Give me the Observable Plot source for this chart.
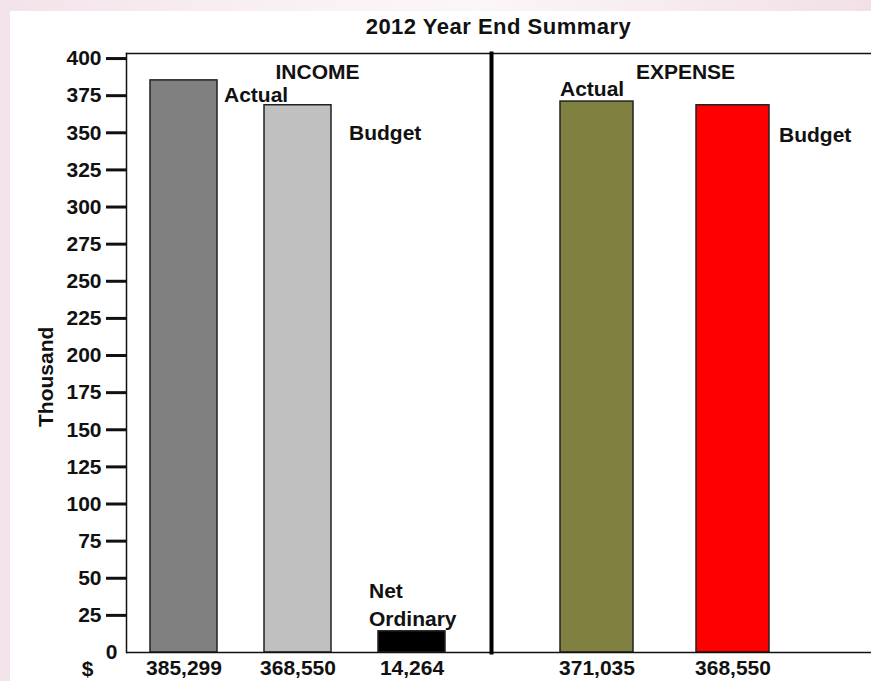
<!DOCTYPE html>
<html>
<head>
<meta charset="utf-8">
<script src="https://cdn.jsdelivr.net/npm/d3@7"></script>
<script src="https://cdn.jsdelivr.net/npm/@observablehq/plot@0.6"></script>
<style>
  html, body { margin: 0; padding: 0; }
  body { width: 871px; height: 681px; position: relative; overflow: hidden;
         background: linear-gradient(to right, #f3e3ea 0%, #faf3f6 40%, #fbf6f8 55%, #f2e0e6 100%); }
  #panel { position: absolute; left: 10px; top: 11px; right: 0; bottom: 0; background: #fff; }
  #title { position: absolute; left: 126px; width: 745px; top: 14px; text-align: center;
           font: bold 22px "Liberation Sans", Arial, sans-serif; letter-spacing: 0.5px; color: #111; line-height: 26px; }
  #charts { position: absolute; left: 0; top: 40px; width: 871px; height: 641px; }
  #charts svg { position: absolute; top: 0; overflow: visible; max-width: none !important; }
</style>
</head>
<body>
<div id="panel"></div>
<div id="title"></div>
<div id="charts"></div>
<script>
// ---- data ----
const title = "2012 Year End Summary";
const incomeCategories = ["Actual", "Budget", "Net Ordinary"];
const incomeValues = [385299, 368550, 14264];
const incomeColors = ["#808080", "#c0c0c0", "#000000"];
const expenseCategories = ["Actual", "Budget"];
const expenseValues = [371035, 368550];
const expenseColors = ["#808040", "#ff0000"];
const yTicks = [25, 50, 75, 100, 125, 150, 175, 200, 225, 250, 275, 300, 325, 350, 375, 400];
const yLabel = "Thousand";
const currencyLabel = "$";
const groupLabels = ["INCOME", "EXPENSE"];

document.getElementById("title").textContent = title;

const income = incomeCategories.map((c, i) => ({cat: c, value: incomeValues[i], k: incomeValues[i] / 1000}));
const expense = expenseCategories.map((c, i) => ({cat: c, value: expenseValues[i], k: expenseValues[i] / 1000}));
const fmt = d3.format(",");

const font = {fontFamily: '"Liberation Sans", Arial, sans-serif', fontSize: "21px", fontWeight: "bold", color: "#111", background: "transparent", overflow: "visible", maxWidth: "none"};
const H = 641, MT = 13, MB = 29;
const yDomain = [0, 403.4];

// ---- left (income) chart ----
const left = Plot.plot({
  width: 491, height: H,
  marginLeft: 126, marginRight: 0, marginTop: MT, marginBottom: MB,
  style: font,
  x: {domain: incomeCategories, paddingInner: 0.41, paddingOuter: 0.2985, align: 0.34, axis: null},
  y: {domain: yDomain, axis: null},
  color: {domain: incomeCategories, range: incomeColors},
  marks: [
    Plot.barY(income, {x: "cat", y: "k", fill: "cat", stroke: "#222", strokeWidth: 1.5}),
    Plot.axisY({ticks: yTicks, tickSize: 20, tickPadding: 5, strokeWidth: 3, stroke: "#111", tickFormat: d3.format("d"), label: null}),
    Plot.axisY({ticks: [0], tickSize: 0, tickPadding: 9, tickFormat: d3.format("d"), label: null}),
    Plot.frame({anchor: "left", stroke: "#111", strokeWidth: 1.5}),
    Plot.frame({anchor: "top", stroke: "#111", strokeWidth: 1.5}),
    Plot.ruleY([0], {stroke: "#111", strokeWidth: 1.5}),
    Plot.text([yLabel], {frameAnchor: "left", rotate: -90, dx: -80, dy: 74, fill: "#111"}),
    Plot.text([currencyLabel], {frameAnchor: "bottom-left", textAnchor: "middle", dx: -39, dy: 17, lineAnchor: "middle", fill: "#111"}),
    Plot.text([groupLabels[0]], {frameAnchor: "top-left", dx: 191, dy: 19, lineAnchor: "middle", textAnchor: "middle", fill: "#111"}),
    // bar labels
    Plot.text(income.filter(d => d.cat === "Actual"), {x: "cat", y: "k", text: () => "Actual", textAnchor: "start", dx: 40, dy: 15, fill: "#111"}),
    Plot.text(income.filter(d => d.cat === "Budget"), {x: "cat", y: "k", text: () => "Budget", textAnchor: "start", dx: 51, dy: 28, fill: "#111"}),
    Plot.text(income.filter(d => d.cat === "Net Ordinary"), {x: "cat", y: "k", text: () => "Net\nOrdinary", textAnchor: "start", lineAnchor: "bottom", lineHeight: 1.33, dx: -43, dy: -5, fill: "#111"}),
    // values under bars
    Plot.text(income, {x: "cat", frameAnchor: "bottom", text: d => fmt(d.value), dy: 16, lineAnchor: "middle", fill: "#111"})
  ]
});
left.style.left = "0px";

// ---- right (expense) chart ----
const right = Plot.plot({
  width: 384, height: H,
  marginLeft: 4, marginRight: 0, marginTop: MT, marginBottom: MB,
  style: font,
  x: {domain: expenseCategories, paddingInner: 0.46, paddingOuter: 0.617, align: 0.405, axis: null},
  y: {domain: yDomain, axis: null},
  color: {domain: expenseCategories, range: expenseColors},
  marks: [
    Plot.barY(expense, {x: "cat", y: "k", fill: "cat", stroke: "#222", strokeWidth: 1.5}),
    Plot.frame({anchor: "top", stroke: "#111", strokeWidth: 1.5}),
    Plot.ruleY([0], {stroke: "#111", strokeWidth: 1.5}),
    Plot.frame({anchor: "left", stroke: "#000", strokeWidth: 4}),
    Plot.text([groupLabels[1]], {frameAnchor: "top-left", dx: 194, dy: 19, lineAnchor: "middle", textAnchor: "middle", fill: "#111"}),
    Plot.text(expense.filter(d => d.cat === "Actual"), {x: "cat", y: "k", text: () => "Actual", textAnchor: "start", dx: -37, dy: -12, fill: "#111"}),
    Plot.text(expense.filter(d => d.cat === "Budget"), {x: "cat", y: "k", text: () => "Budget", textAnchor: "start", dx: 46, dy: 30, fill: "#111"}),
    Plot.text(expense, {x: "cat", frameAnchor: "bottom", text: d => fmt(d.value), dy: 16, lineAnchor: "middle", fill: "#111"})
  ]
});
right.style.left = "487px";

document.getElementById("charts").append(left, right);
</script>
</body>
</html>
